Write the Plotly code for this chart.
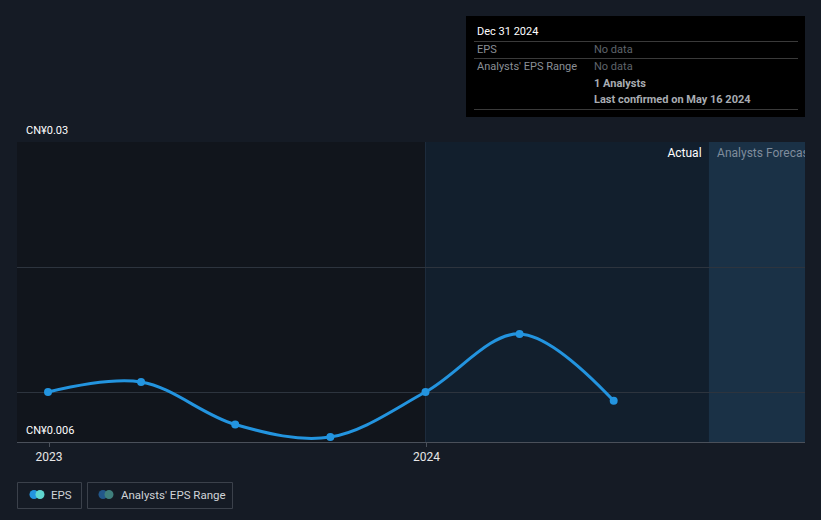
import plotly.graph_objects as go

# ---- data ----
dates = ["2022-12-31", "2023-03-31", "2023-06-30", "2023-09-30", "2023-12-31", "2024-03-31", "2024-06-30"]
eps = [0.0100, 0.0108, 0.0074, 0.0064, 0.0100, 0.01465, 0.0093]
x_ticks = ["2023-01-01", "2024-01-01"]
x_tick_labels = ["2023", "2024"]
y_grid = [0.01, 0.02, 0.03]
y_labels = ["CN¥0.03", "CN¥0.006"]
x_start, actual_split, forecast_split, x_end = "2022-12-01", "2023-12-31", "2024-09-30", "2025-01-01"
y_min, y_max = 0.006, 0.03

W, H = 821, 520
BG = "#151b25"
FONT = "Roboto"
X0, X1 = 17 / W, 805 / W
Y0, Y1 = (H - 442) / H, (H - 142) / H

fig = go.Figure()

fig.add_trace(go.Scatter(
    x=dates, y=eps, mode="lines+markers",
    line=dict(color="#2394df", width=3, shape="spline", smoothing=1.0),
    marker=dict(color="#2394df", size=8),
    hoverinfo="skip", showlegend=False, cliponaxis=False,
))

# region labels (clipped to the plot area)
fig.add_trace(go.Scatter(
    x=["2024-09-23"], y=[0.02904], mode="text", text=["Actual"],
    textposition="middle left", textfont=dict(color="#ffffff", size=12, family=FONT),
    cliponaxis=True, showlegend=False, hoverinfo="skip",
))
fig.add_trace(go.Scatter(
    x=["2024-10-08"], y=[0.02904], mode="text", text=["Analysts Forecast"],
    textposition="middle right", textfont=dict(color="#7f8c9c", size=12, family=FONT),
    cliponaxis=True, showlegend=False, hoverinfo="skip",
))

shapes = [
    dict(type="rect", xref="x", yref="paper", x0=x_start, x1=actual_split, y0=Y0, y1=Y1,
         fillcolor="#11151c", line_width=0, layer="below"),
    dict(type="rect", xref="x", yref="paper", x0=actual_split, x1=forecast_split, y0=Y0, y1=Y1,
         fillcolor="#121f2d", line_width=0, layer="below"),
    dict(type="rect", xref="x", yref="paper", x0=forecast_split, x1=x_end, y0=Y0, y1=Y1,
         fillcolor="#1a3146", line_width=0, layer="below"),
    dict(type="line", xref="x", yref="paper", x0=actual_split, x1=actual_split, y0=Y0, y1=Y1,
         line=dict(color="#1e2d3d", width=1), layer="below"),
]

# tooltip box
bx0, bx1, by0, by1 = 466, 805, 16, 117
def px(x):
    return x / W
def py(y):
    return (H - y) / H
shapes.append(dict(type="rect", xref="paper", yref="paper", x0=px(bx0), x1=px(bx1), y0=py(by1), y1=py(by0),
                   fillcolor="#000000", line_width=0, layer="above"))
for ly in [41.5, 58.5, 109.5]:
    shapes.append(dict(type="line", xref="paper", yref="paper", x0=px(474), x1=px(798), y0=py(ly), y1=py(ly),
                       line=dict(color="#3a3a3a", width=1), layer="above"))

annotations = []
def txt(x, y, s, color, size=11, bold=False, anchor="left"):
    annotations.append(dict(xref="paper", yref="paper", x=px(x), y=py(y), text=f"<b>{s}</b>" if bold else s,
                            showarrow=False, xanchor=anchor, yanchor="middle",
                            font=dict(color=color, size=size, family=FONT)))

txt(475, 31, "Dec 31 2024", "#ffffff", 11)
txt(475, 49, "EPS", "#8a8f96", 11)
txt(592, 49, "No data", "#5f646b", 11)
txt(475, 66, "Analysts' EPS Range", "#8a8f96", 11)
txt(592, 66, "No data", "#5f646b", 11)
txt(592, 83, "1 Analysts", "#a8acb2", 11, bold=True)
txt(592, 99, "Last confirmed on May 16 2024", "#a8acb2", 11, bold=True)

# y labels
txt(24, 130, y_labels[0], "#ffffff", 11)
txt(24, 430, y_labels[1], "#ffffff", 11)

# legend
for (lx0, lx1) in [(17, 82), (87, 233)]:
    shapes.append(dict(type="rect", xref="paper", yref="paper", x0=px(lx0 + 0.5), x1=px(lx1 - 0.5),
                       y0=py(508.5), y1=py(482.5), line=dict(color="#3b414b", width=1),
                       fillcolor="rgba(0,0,0,0)"))
def dot(cx, cy, r, color):
    shapes.append(dict(type="circle", xref="paper", yref="paper", x0=px(cx - r), x1=px(cx + r),
                       y0=py(cy + r), y1=py(cy - r), fillcolor=color, line_width=0))
dot(34, 494.5, 4.5, "#2394df")
dot(40, 494.5, 4.5, "#5fd6cf")
dot(103, 494.5, 4.5, "#22578a")
dot(109, 494.5, 4.5, "#3f7f7c")
txt(49, 494.5, "EPS", "#d0d3d8", 11.5)
txt(119, 494.5, "Analysts' EPS Range", "#d0d3d8", 11.5)

fig.update_layout(
    width=W, height=H,
    margin=dict(l=0, r=0, t=0, b=0),
    paper_bgcolor=BG, plot_bgcolor=BG,
    shapes=shapes, annotations=annotations,
    showlegend=False,
    xaxis=dict(
        domain=[X0, X1], type="date", range=[x_start, x_end],
        tickvals=x_ticks, ticktext=x_tick_labels,
        tickfont=dict(color="#e6e6e6", size=12, family=FONT),
        ticks="outside", ticklen=4, tickcolor="#4a505a",
        showgrid=False, zeroline=False,
        showline=True, linecolor="#4a505a", linewidth=1,
        fixedrange=True,
    ),
    yaxis=dict(
        domain=[Y0, Y1], range=[y_min, y_max],
        tickvals=y_grid, showticklabels=False,
        showgrid=True, gridcolor="#2d343e", gridwidth=1,
        zeroline=False, showline=False, fixedrange=True,
    ),
)

fig.write_html("out.html")
